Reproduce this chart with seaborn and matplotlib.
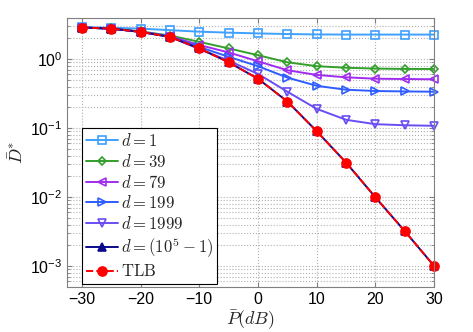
import matplotlib
matplotlib.use('Agg')
import matplotlib.pyplot as plt
import seaborn as sns
import numpy as np

# SNR grid (dB)
P_dB = [-30, -25, -20, -15, -10, -5, 0, 5, 10, 15, 20, 25, 30]

# distortion values
D_d1    = [2.90, 2.85, 2.77, 2.63, 2.50, 2.42, 2.36, 2.31, 2.28, 2.27, 2.27, 2.27, 2.27]
D_d39   = [2.87, 2.78, 2.52, 2.20, 1.78, 1.43, 1.14, 0.90, 0.79, 0.75, 0.73, 0.72, 0.72]
D_d79   = [2.87, 2.77, 2.50, 2.15, 1.60, 1.25, 0.93, 0.69, 0.59, 0.545, 0.52, 0.515, 0.51]
D_d199  = [2.87, 2.77, 2.49, 2.12, 1.50, 1.08, 0.79, 0.54, 0.41, 0.36, 0.345, 0.34, 0.337]
D_d1999 = [2.87, 2.77, 2.48, 2.10, 1.40, 0.95, 0.61, 0.337, 0.19, 0.132, 0.114, 0.110, 0.108]
D_dbig  = [2.87, 2.77, 2.48, 2.10, 1.43, 0.90, 0.52, 0.243, 0.090, 0.0316, 0.0099, 0.0032, 0.0010]
D_tlb   = [2.87, 2.77, 2.48, 2.10, 1.43, 0.90, 0.52, 0.243, 0.090, 0.0316, 0.0099, 0.0032, 0.0010]

sns.set_style('ticks')
plt.rcParams['font.family'] = ['Liberation Sans', 'DejaVu Sans']
plt.rcParams['mathtext.fontset'] = 'cm'

fig, ax = plt.subplots(figsize=(4.73, 3.32), dpi=100)
fig.subplots_adjust(left=0.142, right=0.918, top=0.947, bottom=0.136)

series = [
    (D_d1,    r'$d=1$',            '#3fa0ff', 's',  'none',    '-'),
    (D_d39,   r'$d=39$',           '#33a02c', 'D',  'none',    '-'),
    (D_d79,   r'$d=79$',           '#a02cf0', '<',  'none',    '-'),
    (D_d199,  r'$d=199$',          '#2f5cff', '>',  'none',    '-'),
    (D_d1999, r'$d=1999$',         '#6a4cf5', 'v',  'none',    '-'),
    (D_dbig,  r'$d=(10^5-1)$',     '#0a0a8c', '^',  '#0a0a8c', '-'),
    (D_tlb,   r'$\mathrm{TLB}$',   '#ff0000', 'o',  '#ff0000', '--'),
]

for vals, lab, col, mk, mfc, ls in series:
    ms = 6.5 if mk == 'o' else (4 if mk == 'D' else 5.5)
    sns.lineplot(x=P_dB, y=vals, ax=ax, label=lab, color=col, linestyle=ls,
                 linewidth=1.4, marker=mk, markersize=ms, markerfacecolor=mfc,
                 markeredgecolor=col, markeredgewidth=1.2, clip_on=False)

ax.set_yscale('log')
ax.set_xlim(-32.5, 30)
ax.set_ylim(5e-4, 4)
ax.set_xticks([-30, -20, -10, 0, 10, 20, 30])

ax.grid(True, which='major', axis='both', linestyle=':', color='#b0b0b0', linewidth=0.8)
ax.grid(True, which='minor', axis='y', linestyle=':', color='#b0b0b0', linewidth=0.8)

for s in ax.spines.values():
    s.set_visible(True)
    s.set_color('#808080')
ax.tick_params(which='both', direction='in', top=True, right=True, colors='#808080',
               labelcolor='black', labelsize=11.5)
ax.tick_params(which='minor', length=2)

ax.set_xlabel(r'$\bar{P}(dB)$', fontsize=13, labelpad=1)
ax.set_ylabel(r'$\bar{D}^{*}$', fontsize=13, labelpad=2)

leg = ax.legend(loc='lower left', bbox_to_anchor=(0.04, 0.012), fontsize=12,
                frameon=True, fancybox=False, edgecolor='black', framealpha=1,
                handlelength=1.9, handletextpad=0.2, borderpad=0.25, labelspacing=0.22,
                borderaxespad=0)
leg.get_frame().set_linewidth(0.8)

fig.savefig('out.png', dpi=100)
